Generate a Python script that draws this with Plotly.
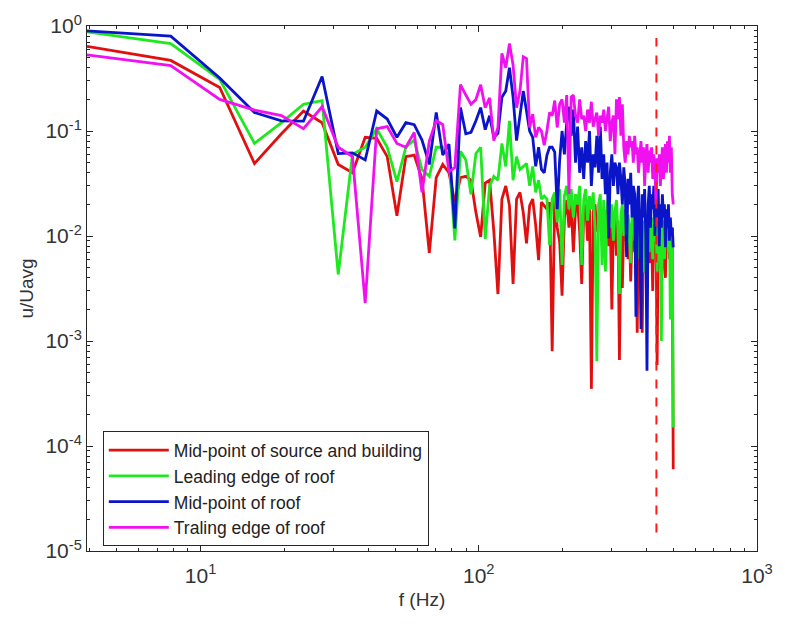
import plotly.graph_objects as go

# FFT bin frequencies (Hz)
freq = [k * 1000 / 256 for k in range(1, 129)]

mid_source = [0.64, 0.47, 0.26, 0.049, 0.094, 0.155, 0.12, 0.048, 0.04, 0.087,
              0.085, 0.057, 0.0156, 0.057, 0.059, 0.035, 0.0069, 0.036, 0.048, 0.04,
              0.021, 0.036, 0.037, 0.034, 0.0167, 0.0098, 0.032, 0.034, 0.011, 0.0028,
              0.0225, 0.030, 0.0195, 0.0035, 0.0225, 0.026, 0.0167, 0.0085, 0.0195, 0.0225,
              0.0126, 0.0059, 0.021, 0.0195, 0.018, 0.021, 0.0008, 0.0225, 0.012, 0.0088,
              0.0027, 0.015, 0.022, 0.012, 0.02, 0.007, 0.018, 0.021, 0.011, 0.0035,
              0.016, 0.02, 0.009, 0.018, 0.00035, 0.017, 0.02, 0.011, 0.015, 0.019,
              0.009, 0.016, 0.012, 0.018, 0.008, 0.014, 0.002, 0.012, 0.016, 0.0065,
              0.014, 0.00066, 0.011, 0.0032, 0.013, 0.009, 0.015, 0.006, 0.012, 0.0037,
              0.011, 0.014, 0.007, 0.012, 0.0012, 0.01, 0.013, 0.006, 0.0012, 0.009,
              0.012, 0.0045, 0.011, 0.008, 0.013, 0.0055, 0.01, 0.003, 0.011, 0.007,
              0.012, 0.00059, 0.009, 0.011, 0.005, 0.01, 0.007, 0.012, 0.005, 0.004,
              0.011, 0.008, 0.012, 0.006, 0.01, 0.0045, 0.009, 0.00006]

leading_edge = [0.88, 0.68, 0.31, 0.076, 0.12, 0.18, 0.195, 0.0043, 0.06, 0.07,
                0.105, 0.07, 0.033, 0.07, 0.082, 0.043, 0.037, 0.07, 0.07, 0.057,
                0.0091, 0.064, 0.053, 0.025, 0.061, 0.070, 0.0094, 0.030, 0.037, 0.034,
                0.076, 0.046, 0.125, 0.034, 0.057, 0.043, 0.046, 0.049, 0.030, 0.046,
                0.026, 0.034, 0.0225, 0.024, 0.0225, 0.0082, 0.0225, 0.026, 0.0135, 0.028,
                0.0053, 0.024, 0.03, 0.018, 0.028, 0.015, 0.025, 0.02, 0.03, 0.0053,
                0.022, 0.028, 0.014, 0.024, 0.018, 0.026, 0.012, 0.00064, 0.02, 0.025,
                0.0053, 0.022, 0.0046, 0.018, 0.024, 0.012, 0.02, 0.009, 0.017, 0.022,
                0.011, 0.0028, 0.016, 0.02, 0.01, 0.018, 0.007, 0.016, 0.012, 0.0055,
                0.015, 0.019, 0.009, 0.014, 0.006, 0.016, 0.011, 0.018, 0.008, 0.014,
                0.0045, 0.013, 0.009, 0.016, 0.007, 0.012, 0.015, 0.006, 0.013, 0.009,
                0.014, 0.0045, 0.012, 0.016, 0.008, 0.001, 0.011, 0.014, 0.006, 0.012,
                0.009, 0.014, 0.007, 0.013, 0.0016, 0.01, 0.012, 0.00015]

mid_roof = [0.90, 0.80, 0.32, 0.15, 0.125, 0.124, 0.33, 0.061, 0.062, 0.053,
            0.155, 0.13, 0.087, 0.12, 0.115, 0.082, 0.048, 0.15, 0.059, 0.075,
            0.0118, 0.167, 0.094, 0.097, 0.125, 0.167, 0.103, 0.14, 0.087, 0.095,
            0.21, 0.24, 0.40, 0.21, 0.081, 0.14, 0.24, 0.155, 0.10, 0.087,
            0.046, 0.07, 0.043, 0.040, 0.059, 0.07, 0.07, 0.063, 0.018, 0.053,
            0.1, 0.06, 0.12, 0.17, 0.09, 0.16, 0.05, 0.11, 0.04, 0.07,
            0.035, 0.08, 0.05, 0.1, 0.03, 0.06, 0.045, 0.09, 0.04, 0.11,
            0.035, 0.06, 0.025, 0.05, 0.0095, 0.04, 0.06, 0.03, 0.05, 0.045,
            0.025, 0.05, 0.035, 0.02, 0.045, 0.03, 0.0063, 0.035, 0.02, 0.04,
            0.015, 0.03, 0.025, 0.0017, 0.02, 0.03, 0.012, 0.0013, 0.025, 0.015,
            0.028, 0.01, 0.00052, 0.02, 0.03, 0.012, 0.025, 0.018, 0.03, 0.01,
            0.022, 0.015, 0.028, 0.008, 0.02, 0.012, 0.025, 0.015, 0.02, 0.0078,
            0.018, 0.012, 0.02, 0.009, 0.015, 0.01, 0.012, 0.0078]

trailing_edge = [0.53, 0.42, 0.20, 0.158, 0.14, 0.105, 0.17, 0.07, 0.057, 0.0023,
                 0.105, 0.11, 0.076, 0.07, 0.097, 0.026, 0.08, 0.126, 0.115, 0.041,
                 0.045, 0.276, 0.22, 0.18, 0.20, 0.276, 0.167, 0.207, 0.081, 0.108,
                 0.55, 0.40, 0.68, 0.425, 0.167, 0.24, 0.51, 0.49, 0.108, 0.145,
                 0.087, 0.108, 0.10, 0.073, 0.10, 0.15, 0.14, 0.195, 0.108, 0.18,
                 0.2, 0.12, 0.22, 0.025, 0.21, 0.22, 0.14, 0.12, 0.2, 0.13,
                 0.14, 0.1, 0.16, 0.12, 0.19, 0.11, 0.13, 0.15, 0.09, 0.14,
                 0.12, 0.16, 0.1, 0.13, 0.17, 0.08, 0.12, 0.14, 0.06, 0.2,
                 0.13, 0.21, 0.09, 0.18, 0.07, 0.05, 0.08, 0.06, 0.09, 0.07,
                 0.08, 0.05, 0.09, 0.06, 0.07, 0.04, 0.065, 0.08, 0.05, 0.07,
                 0.03, 0.06, 0.075, 0.04, 0.065, 0.05, 0.07, 0.035, 0.06, 0.045,
                 0.02, 0.055, 0.04, 0.06, 0.03, 0.05, 0.07, 0.035, 0.06, 0.075,
                 0.04, 0.08, 0.05, 0.09, 0.04, 0.07, 0.025, 0.02]

series_names = ["Mid-point of source and building", "Leading edge of roof",
                "Mid-point of roof", "Traling edge of roof"]
series_colors = ["#e01010", "#1ee81e", "#0a14c8", "#f010f0"]

cutoff_x = [435, 435]
cutoff_y = [1.5e-5, 0.77]

x_tickvals = [10, 100, 1000]
x_ticktext = ["10<sup>1</sup>", "10<sup>2</sup>", "10<sup>3</sup>"]
y_tickvals = [1e-5, 1e-4, 1e-3, 1e-2, 1e-1, 1]
y_ticktext = ["10<sup>-5</sup>", "10<sup>-4</sup>", "10<sup>-3</sup>",
              "10<sup>-2</sup>", "10<sup>-1</sup>", "10<sup>0</sup>"]

x_minor = [m * 10 ** e for e in range(0, 3) for m in range(2, 10)]
y_minor = [m * 10.0 ** e for e in range(-5, 0) for m in range(2, 10)]

fig = go.Figure()
for vals, name, col in zip([mid_source, leading_edge, mid_roof, trailing_edge],
                           series_names, series_colors):
    fig.add_trace(go.Scatter(x=freq, y=vals, mode="lines", name=name,
                             line=dict(color=col, width=2.8)))

fig.add_trace(go.Scatter(x=cutoff_x, y=cutoff_y, mode="lines", showlegend=False,
                         line=dict(color="#ff1a1a", width=2, dash="dash")))

axis_common = dict(showline=True, linecolor="#262626", linewidth=1, mirror="allticks",
                   ticks="inside", ticklen=6, tickcolor="#262626", showgrid=False,
                   zeroline=False, tickfont=dict(family="Liberation Sans", size=21, color="#333333"))

fig.update_xaxes(type="log", range=[0.5918, 3], tickmode="array",
                 tickvals=x_tickvals, ticktext=x_ticktext, ticklabelstandoff=6,
                 minor=dict(tickmode="array", tickvals=x_minor, ticks="inside",
                            ticklen=3, tickcolor="#262626", showgrid=False),
                 title=dict(text="f (Hz)", font=dict(family="Liberation Sans", size=19, color="#333333"),
                            standoff=6),
                 **axis_common)
fig.update_yaxes(type="log", range=[-5, 0], tickmode="array",
                 tickvals=y_tickvals, ticktext=y_ticktext,
                 minor=dict(tickmode="array", tickvals=y_minor, ticks="inside",
                            ticklen=3, tickcolor="#262626", showgrid=False),
                 title=dict(text="u/Uavg", font=dict(family="Liberation Sans", size=19, color="#333333"),
                            standoff=6),
                 **axis_common)

fig.update_layout(
    width=785, height=628,
    margin=dict(l=87, r=21, t=17, b=77),
    paper_bgcolor="white", plot_bgcolor="white",
    showlegend=True,
    legend=dict(x=0.0236, y=0.228, xanchor="left", yanchor="top",
                bgcolor="white", bordercolor="#262626", borderwidth=1,
                font=dict(family="Liberation Sans", size=17.5, color="#222222"),
                itemwidth=60, tracegroupgap=0),
)

fig.write_html("out.html")
